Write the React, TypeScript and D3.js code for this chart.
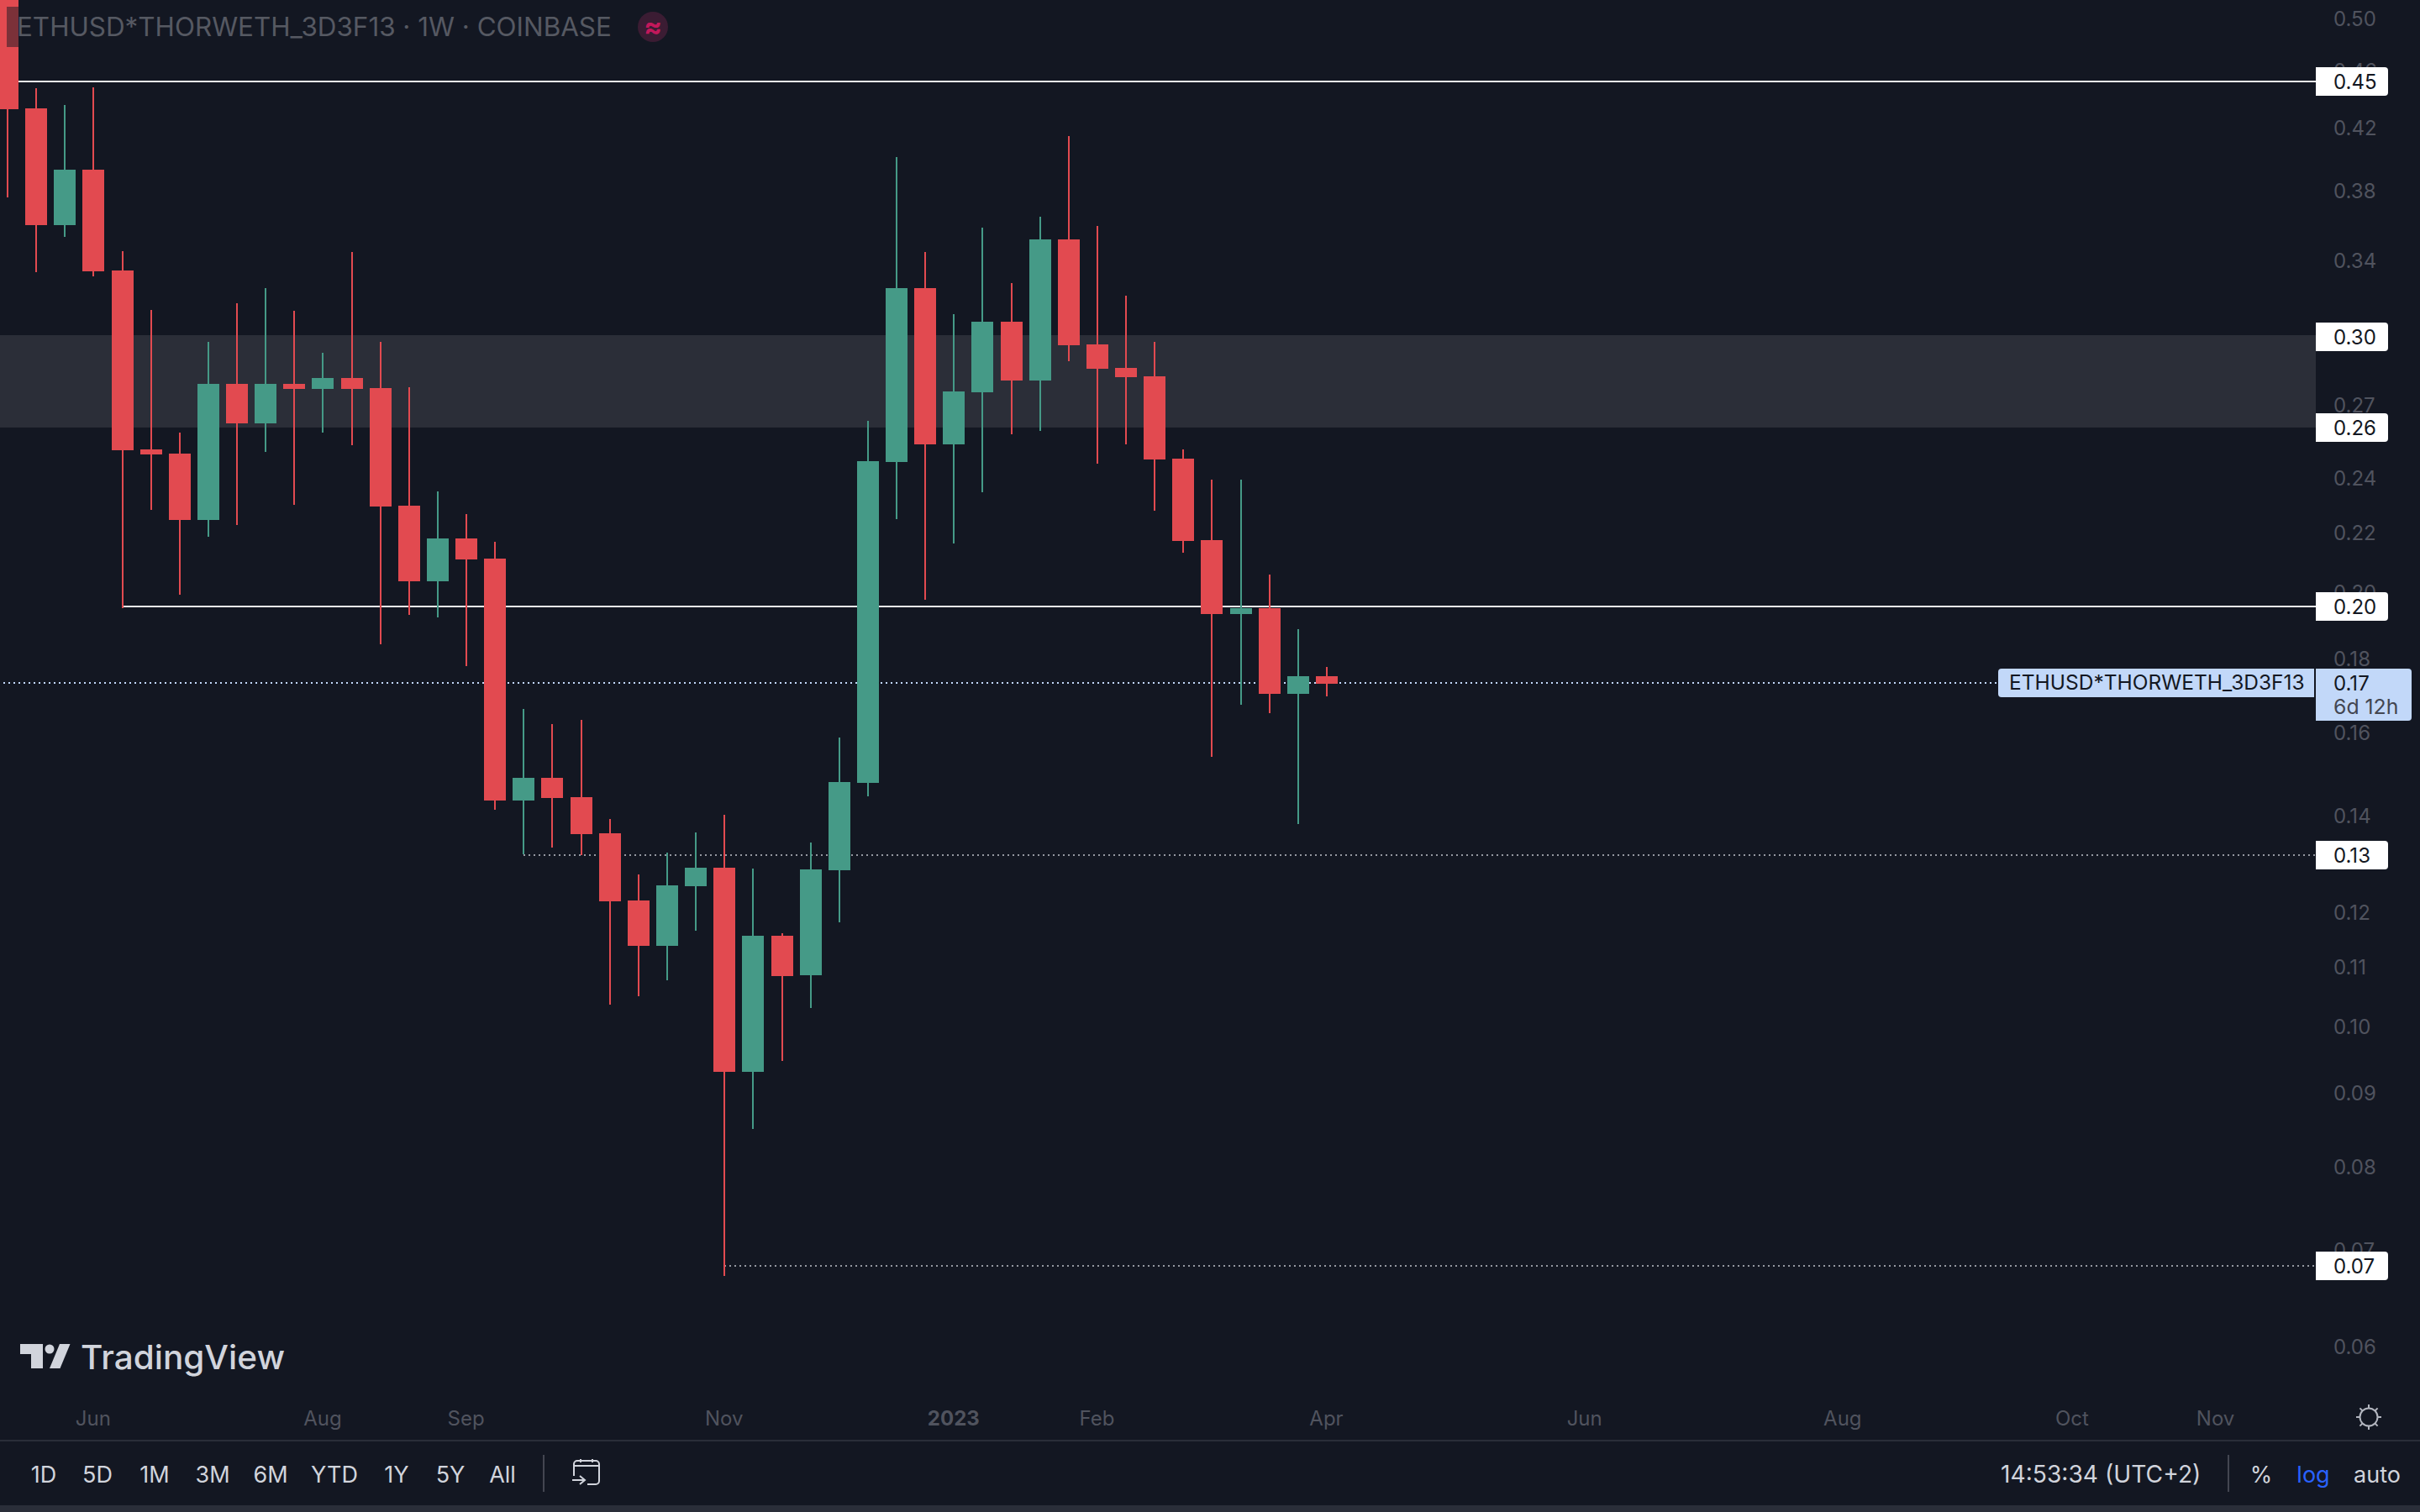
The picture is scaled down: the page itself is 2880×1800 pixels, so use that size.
import { useEffect, useRef } from 'react';
import { select, scaleLog, scaleUtc, axisRight, axisBottom, utcDay, range } from 'd3';

// one row per weekly candle, first week starts 2022-05-16
const opens = [
  0.54, 0.43316, 0.35973, 0.39277, 0.33439, 0.2513, 0.24963, 0.22453, 0.27902, 0.26197, 0.27902, 0.27678,
  0.28165, 0.27715, 0.22971, 0.2036, 0.21801, 0.2111, 0.14347, 0.14876, 0.14424, 0.13616, 0.12231, 0.11377,
  0.12513, 0.12888, 0.09304, 0.11562, 0.10856, 0.12836, 0.14757, 0.2463, 0.3251, 0.25333, 0.2753, 0.30812,
  0.28052, 0.35139, 0.29717, 0.28622, 0.2824, 0.24762, 0.21743, 0.19322, 0.19504, 0.17011, 0.17497,
];
const highs = [
  0.56, 0.44733, 0.43549, 0.44793, 0.34486, 0.31396, 0.25813, 0.29837, 0.31735, 0.3251, 0.31355, 0.29321,
  0.3444, 0.29837, 0.27753, 0.23501, 0.22665, 0.21684, 0.16606, 0.1621, 0.16319, 0.1393, 0.1275, 0.13203,
  0.13634, 0.14024, 0.12871, 0.11609, 0.13417, 0.15866, 0.26303, 0.40075, 0.3444, 0.31186, 0.35805, 0.32773,
  0.36435, 0.41441, 0.35901, 0.3212, 0.29837, 0.2513, 0.23946, 0.23946, 0.20579, 0.18861, 0.17756,
];
const lows = [
  0.37576, 0.33349, 0.35281, 0.33104, 0.19515, 0.22818, 0.19927, 0.21859, 0.22274, 0.25029, 0.23002, 0.25813,
  0.25299, 0.18411, 0.19296, 0.19218, 0.1778, 0.14137, 0.13167, 0.13309, 0.1315, 0.10358, 0.10498, 0.10769,
  0.11655, 0.06717, 0.08493, 0.09467, 0.10302, 0.11812, 0.14444, 0.22484, 0.19767, 0.21626, 0.23469, 0.25744,
  0.25883, 0.2893, 0.24564, 0.25333, 0.22787, 0.21309, 0.15383, 0.16717, 0.16495, 0.13819, 0.16943,
];
const closes = [
  0.43258, 0.35973, 0.39277, 0.33412, 0.25097, 0.24929, 0.22453, 0.27902, 0.26197, 0.27902, 0.27678, 0.28165,
  0.27678, 0.2294, 0.2036, 0.21801, 0.21082, 0.14347, 0.14876, 0.14405, 0.13598, 0.12215, 0.11377, 0.1253,
  0.12888, 0.09304, 0.11562, 0.10841, 0.12853, 0.14777, 0.24663, 0.3251, 0.25333, 0.27567, 0.30812, 0.28052,
  0.35139, 0.29677, 0.28583, 0.28202, 0.24729, 0.21713, 0.19322, 0.19504, 0.17011, 0.17497, 0.17287,
];

const priceTicks = [
  0.5, 0.46, 0.42, 0.38, 0.34, 0.3, 0.27, 0.24, 0.22, 0.2, 0.18, 0.16, 0.14, 0.12, 0.11, 0.1, 0.09, 0.08, 0.07, 0.06,
];
const timeTicks = [
  '2022-06-06', '2022-08-01', '2022-09-05', '2022-11-07', '2023-01-02', '2023-02-06', '2023-04-03',
  '2023-06-05', '2023-08-07', '2023-10-02', '2023-11-06',
];
const timeLabels = ['Jun', 'Aug', 'Sep', 'Nov', '2023', 'Feb', 'Apr', 'Jun', 'Aug', 'Oct', 'Nov'];

// horizontal rays drawn on the chart: [label, price, first week index]
const levelLabels = ['0.45', '0.20', '0.13', '0.07'];
const levelPrices = [0.45215, 0.19556, 0.1315, 0.06826];
const levelStart = [0, 4, 18, 25];
const levelDotted = [false, false, true, true];
const zonePrices = [0.30158, 0.26022];
const zoneTagPrices = [0.3008, 0.26022];
const zoneLabels = ['0.30', '0.26'];
const lastPrice = 0.17311;

const rangeButtons = ['1D', '5D', '1M', '3M', '6M', 'YTD', '1Y', '5Y', 'All'];
const rangeButtonX = [52, 116, 184, 253, 322, 398, 472, 536, 598];

const W = 2880;
const H = 1800;
const BG = '#131722';
const UP = '#459a87';
const DOWN = '#e24a50';
const AXIS_TEXT = '#50535e';
const FONT = 'Inter, sans-serif';
const AXIS_LEFT = 2756;
const SYMBOL = 'ETHUSD*THORWETH_3D3F13';

export default function App() {
  const svgRef = useRef<SVGSVGElement | null>(null);

  useEffect(() => {
    if (!svgRef.current) return;
    const svg = select(svgRef.current);
    svg.selectAll('*').remove();
    svg.style('font-family', FONT);

    const firstWeek = new Date(Date.UTC(2022, 4, 16));
    const weeks = closes.map((_, i) => utcDay.offset(firstWeek, 7 * i));
    const x = scaleUtc().domain([weeks[0], weeks[weeks.length - 1]]).range([9, 1579]);
    const y = scaleLog().domain([0.5, 0.06]).range([22, 1603]);

    svg.append('rect').attr('width', W).attr('height', H).attr('fill', BG);

    // grey zone between the two levels
    svg
      .append('rect')
      .attr('x', 0)
      .attr('y', y(zonePrices[0]))
      .attr('width', AXIS_LEFT)
      .attr('height', y(zonePrices[1]) - y(zonePrices[0]))
      .attr('fill', '#2b2e38');

    // level rays
    levelPrices.forEach((p, i) => {
      svg
        .append('line')
        .attr('x1', levelStart[i] === 0 ? 0 : x(weeks[levelStart[i]]))
        .attr('x2', AXIS_LEFT)
        .attr('y1', Math.round(y(p)))
        .attr('y2', Math.round(y(p)))
        .attr('stroke', levelDotted[i] ? '#9598a1' : '#f0f0f0')
        .attr('stroke-width', 2)
        .attr('stroke-dasharray', levelDotted[i] ? '2 4' : null)
        .attr('shape-rendering', 'crispEdges');
    });

    // last price line
    svg
      .append('line')
      .attr('x1', 4)
      .attr('x2', 2378)
      .attr('y1', Math.round(y(lastPrice)))
      .attr('y2', Math.round(y(lastPrice)))
      .attr('stroke', '#c2d8f9')
      .attr('stroke-width', 2)
      .attr('stroke-dasharray', '2 4')
      .attr('shape-rendering', 'crispEdges');

    // candles
    const bars = svg.append('g').attr('shape-rendering', 'crispEdges');
    weeks.forEach((week, i) => {
      const color = closes[i] >= opens[i] ? UP : DOWN;
      const cx = Math.round(x(week));
      const top = y(Math.max(opens[i], closes[i]));
      const bottom = y(Math.min(opens[i], closes[i]));
      bars
        .append('rect')
        .attr('x', cx - 1)
        .attr('y', y(highs[i]))
        .attr('width', 2)
        .attr('height', y(lows[i]) - y(highs[i]))
        .attr('fill', color);
      bars
        .append('rect')
        .attr('x', cx - 13)
        .attr('y', top)
        .attr('width', 26)
        .attr('height', bottom - top)
        .attr('fill', color);
    });

    // legend on top of the chart
    svg
      .append('rect')
      .attr('x', 8)
      .attr('y', 8)
      .attr('width', 730)
      .attr('height', 48)
      .attr('fill', BG)
      .attr('opacity', 0.5);
    svg
      .append('text')
      .attr('x', 20)
      .attr('y', 32)
      .attr('dy', '0.36em')
      .attr('font-size', 31.4)
      .attr('fill', '#565962')
      .text(`${SYMBOL} · 1W · COINBASE`);
    svg.append('circle').attr('cx', 777).attr('cy', 32).attr('r', 18).attr('fill', '#3b1c33');
    svg
      .append('text')
      .attr('x', 777)
      .attr('y', 32)
      .attr('dy', '0.33em')
      .attr('text-anchor', 'middle')
      .attr('font-size', 32)
      .attr('font-weight', 700)
      .attr('fill', '#c2185b')
      .text('≈');

    // price axis
    const yAxis = svg
      .append('g')
      .attr('transform', 'translate(2777,0)')
      .call(axisRight(y).tickValues(priceTicks).tickSize(0).tickPadding(0).tickFormat((v) => Number(v).toFixed(2)));
    yAxis.select('.domain').remove();
    yAxis
      .selectAll('text')
      .attr('x', 0)
      .attr('dy', '0.36em')
      .attr('font-family', FONT)
      .attr('font-size', 24)
      .attr('fill', AXIS_TEXT);

    // level tags on the axis
    const tag = (price: number, label: string) => {
      const cy = Math.round(y(price));
      svg
        .append('path')
        .attr('d', `M${AXIS_LEFT},${cy - 17}h82a4,4 0 0 1 4,4v26a4,4 0 0 1 -4,4h-82z`)
        .attr('fill', '#ffffff');
      svg
        .append('text')
        .attr('x', 2777)
        .attr('y', cy)
        .attr('dy', '0.36em')
        .attr('font-size', 24)
        .attr('fill', '#131722')
        .text(label);
    };
    levelPrices.forEach((p, i) => tag(p, levelLabels[i]));
    zoneTagPrices.forEach((p, i) => tag(p, zoneLabels[i]));

    // last price tags
    const lastY = Math.round(y(lastPrice));
    svg
      .append('path')
      .attr('d', `M2754,${lastY - 17}v34h-372a4,4 0 0 1 -4,-4v-26a4,4 0 0 1 4,-4z`)
      .attr('fill', '#c2d8f9');
    svg
      .append('text')
      .attr('x', 2391)
      .attr('y', lastY - 1)
      .attr('dy', '0.36em')
      .attr('font-size', 24.5)
      .attr('fill', '#131722')
      .text(SYMBOL);
    svg
      .append('path')
      .attr('d', `M${AXIS_LEFT},${lastY - 17}h110a4,4 0 0 1 4,4v54a4,4 0 0 1 -4,4h-110z`)
      .attr('fill', '#c2d8f9');
    svg
      .append('text')
      .attr('x', 2777)
      .attr('y', lastY)
      .attr('dy', '0.36em')
      .attr('font-size', 24)
      .attr('fill', '#131722')
      .text(lastPrice.toFixed(2));
    svg
      .append('text')
      .attr('x', 2777)
      .attr('y', lastY + 28)
      .attr('dy', '0.36em')
      .attr('font-size', 24.8)
      .attr('fill', '#434651')
      .text('6d 12h');

    // time axis
    const tickDates = timeTicks.map((d) => new Date(`${d}T00:00:00Z`));
    const xAxis = svg
      .append('g')
      .attr('transform', 'translate(-1,1688)')
      .call(
        axisBottom(x)
          .tickValues(tickDates)
          .tickSize(0)
          .tickPadding(0)
          .tickFormat((_, i) => timeLabels[i]),
      );
    xAxis.select('.domain').remove();
    xAxis
      .selectAll('text')
      .attr('y', 0)
      .attr('dy', '0.36em')
      .attr('font-family', FONT)
      .attr('font-size', 24)
      .attr('font-weight', (_, i) => (timeLabels[i] === '2023' ? 700 : 400))
      .attr('fill', AXIS_TEXT);

    // settings gear at the end of the time axis
    const gear = svg.append('g').attr('transform', 'translate(2819,1687)').attr('stroke', '#b2b5be').attr('fill', 'none').attr('stroke-width', 2);
    gear.append('circle').attr('r', 10.5);
    range(8).forEach((k) => {
      const a = (k * Math.PI) / 4;
      gear
        .append('line')
        .attr('x1', 10.5 * Math.cos(a))
        .attr('y1', 10.5 * Math.sin(a))
        .attr('x2', 15 * Math.cos(a))
        .attr('y2', 15 * Math.sin(a));
    });

    // bottom toolbar
    svg.append('rect').attr('x', 0).attr('y', 1714).attr('width', W).attr('height', 2).attr('fill', '#2a2e39');
    svg.append('rect').attr('x', 0).attr('y', 1792).attr('width', W).attr('height', 8).attr('fill', '#2a2e39');
    const toolText = (tx: number, label: string, anchor = 'middle', fill = '#d1d4dc', size = 27) =>
      svg
        .append('text')
        .attr('x', tx)
        .attr('y', 1755)
        .attr('dy', '0.36em')
        .attr('text-anchor', anchor)
        .attr('font-size', size)
        .attr('fill', fill)
        .text(label);
    rangeButtons.forEach((b, i) => toolText(rangeButtonX[i], b));
    svg.append('rect').attr('x', 646).attr('y', 1732).attr('width', 2).attr('height', 44).attr('fill', '#434651');
    svg.append('rect').attr('x', 2651).attr('y', 1732).attr('width', 2).attr('height', 44).attr('fill', '#434651');
    toolText(2381, '14:53:34 (UTC+2)', 'start', '#d1d4dc', 28.2);
    toolText(2691, '%');
    toolText(2753, 'log', 'middle', '#2962ff');
    toolText(2829, 'auto');

    // go-to-date icon
    svg
      .append('path')
      .attr(
        'd',
        'M683,1757v-14a4,4 0 0 1 4,-4h22a4,4 0 0 1 4,4v20a4,4 0 0 1 -4,4h-10M683,1745h30M691,1737v4M705,1737v4M681,1762h14M690,1757l6,5l-6,5',
      )
      .attr('fill', 'none')
      .attr('stroke', '#d1d4dc')
      .attr('stroke-width', 2);

    // TradingView logo
    const logo = svg.append('g').attr('fill', '#d1d4dc');
    logo.append('path').attr('d', 'M24,1600h27v29h-14v-17h-13z');
    logo.append('circle').attr('cx', 59).attr('cy', 1606).attr('r', 5.5);
    logo.append('path').attr('d', 'M71,1600h12.5l-12,29h-12.5z');
    logo
      .append('text')
      .attr('x', 96)
      .attr('y', 1630)
      .attr('font-size', 40)
      .attr('font-weight', 500)
      .attr('textLength', 243)
      .attr('lengthAdjust', 'spacingAndGlyphs')
      .text('TradingView');
  }, []);

  return <svg ref={svgRef} width={W} height={H} viewBox={`0 0 ${W} ${H}`} style={{ position: 'fixed', left: 0, top: 0, display: 'block' }} />;
}
